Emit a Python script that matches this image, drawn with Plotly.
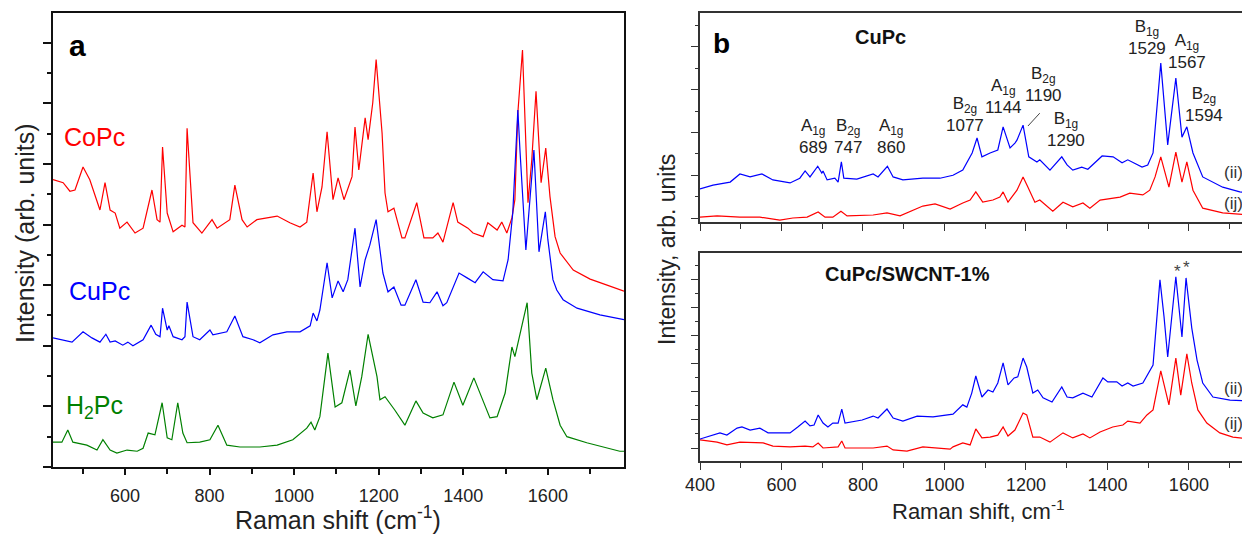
import plotly.graph_objects as go

# ---------------- data (x: Raman shift cm-1, y: arbitrary intensity units) ----------------
# Panel a
a_copc = [(430,47.4),(454,46.9),(470,45.5),(482,45.7),(501,49.5),(517,47.4),(541,42.4),(553,46.9),(565,42.4),(577,41.9),
          (588,39.4),(605,40.4),(624,38.6),(643,39.4),(664,45.7),(676,40.8),(683,40.4),(689,52.8),(700,41.9),(714,38.8),
          (735,39.9),(742,39.6),(747,55.9),(761,40.3),(782,38.6),(806,40.8),(818,39.4),(848,40.8),(860,46.5),(877,40.8),
          (889,39.6),(912,40.8),(960,41.4),(990,40.3),(1014,39.6),(1030,40.4),(1045,48.5),(1054,42.1),(1066,46.2),(1078,55.3),
          (1092,44.1),(1104,47.7),(1118,44.1),(1137,47.9),(1144,56.1),(1153,49.0),(1168,57.6),(1175,54.0),(1186,60.1),(1194,67.2),
          (1208,55.1),(1215,45.2),(1222,42.1),(1236,42.7),(1255,37.8),(1262,37.8),(1290,43.6),(1307,37.8),(1328,37.8),(1340,38.6),
          (1352,37.1),(1376,43.6),(1387,40.4),(1411,39.4),(1423,38.6),(1447,38.0),(1458,40.3),(1480,39.1),(1491,40.4),(1503,38.6),
          (1515,41.1),(1522,44.1),(1529,58.4),(1540,68.8),(1553,43.6),(1562,50.7),(1572,62.0),(1584,46.9),(1595,52.6),(1605,44.6),
          (1617,38.0),(1629,35.3),(1660,32.5),(1700,31.0),(1740,30.0),(1780,29.0)]

a_cupc = [(430,21.3),(451,21.0),(475,20.6),(501,22.3),(522,21.3),(541,20.6),(555,21.9),(565,20.6),(577,20.8),(595,20.1),
          (607,20.6),(619,20.0),(643,21.0),(662,23.4),(673,21.9),(683,21.5),(689,26.2),(700,22.6),(704,23.3),(714,21.5),
          (735,21.0),(742,21.5),(747,27.2),(761,21.5),(777,21.0),(801,22.6),(808,21.8),(841,22.3),(860,24.9),(879,21.5),
          (903,21.0),(919,20.5),(950,21.8),(983,22.3),(1014,22.3),(1038,23.3),(1045,25.4),(1054,24.1),(1061,25.9),(1078,33.7),
          (1090,27.9),(1104,30.7),(1116,28.9),(1127,30.9),(1144,39.4),(1156,29.7),(1168,34.2),(1179,36.6),(1194,40.8),(1210,32.0),
          (1222,28.9),(1236,29.7),(1253,26.7),(1262,26.7),(1288,30.9),(1305,27.2),(1321,27.1),(1338,28.9),(1352,26.6),(1361,27.1),
          (1390,32.0),(1409,31.2),(1428,30.4),(1447,32.2),(1470,30.9),(1494,30.7),(1506,34.2),(1517,41.9),(1529,58.9),(1534,52.3),
          (1548,35.8),(1567,52.3),(1579,35.5),(1594,42.1),(1600,37.5),(1612,30.9),(1621,29.2),(1636,27.6),(1669,26.2),(1723,25.1),
          (1780,24.3)]

a_h2pc = [(430,4.1),(451,4.1),(465,6.1),(477,4.1),(510,3.6),(534,2.8),(548,4.5),(565,2.8),(581,2.3),(605,2.8),
          (629,2.6),(643,3.1),(655,5.6),(671,5.3),(688,10.6),(700,4.8),(711,4.5),(725,10.6),(737,5.6),(747,4.0),
          (777,4.1),(801,4.5),(820,6.9),(841,3.6),(872,3.3),(919,3.3),(960,3.6),(997,4.5),(1030,6.4),(1040,7.4),
          (1049,6.1),(1061,8.3),(1080,18.8),(1097,9.9),(1113,10.6),(1132,16.0),(1146,10.1),(1160,14.9),(1175,21.9),(1196,14.9),
          (1203,11.1),(1215,11.6),(1238,9.4),(1262,6.9),(1288,10.9),(1305,8.9),(1328,8.1),(1352,8.6),(1378,14.0),(1399,10.2),
          (1425,14.7),(1439,12.2),(1463,8.1),(1480,8.3),(1499,12.2),(1515,19.8),(1522,18.2),(1551,27.1),(1562,15.5),(1574,11.1),
          (1595,16.3),(1612,11.1),(1629,6.9),(1645,5.0),(1692,4.0),(1770,2.6),(1780,2.6)]

# Panel b, top (CuPc)
b_top_ii = [(400,6.8),(432,7.7),(474,8.4),(498,10.3),(523,9.6),(552,10.3),(579,8.9),(621,8.2),(645,9.3),(658,11.0),
            (670,9.6),(689,12.1),(699,10.5),(702,11.0),(712,8.9),(731,9.3),(739,8.4),(747,13.1),(753,9.3),(785,9.1),
            (825,10.3),(837,9.6),(860,12.1),(874,9.6),(898,8.9),(947,9.3),(989,9.3),(1021,10.0),(1045,11.2),(1068,15.2),
            (1080,18.7),(1092,14.3),(1112,15.2),(1131,15.9),(1144,21.3),(1161,16.4),(1173,17.5),(1178,18.2),(1193,21.7),(1207,14.3),
            (1227,13.1),(1234,13.6),(1259,11.2),(1288,14.3),(1301,12.4),(1315,11.2),(1337,11.9),(1352,11.4),(1387,14.5),(1414,14.3),
            (1436,12.9),(1450,13.6),(1485,11.9),(1499,12.4),(1512,15.2),(1531,36.2),(1548,17.1),(1568,32.7),(1583,18.9),(1595,21.3),
            (1610,15.2),(1634,9.6),(1683,7.2),(1725,6.1),(1750,5.8)]

b_top_ij = [(400,0.2),(442,0.5),(498,0.2),(547,0.2),(596,-0.5),(628,0.0),(663,0.2),(690,1.4),(707,0.2),(726,0.2),
            (746,1.6),(761,0.5),(825,0.7),(859,1.2),(891,0.5),(923,1.9),(947,2.8),(977,3.3),(1014,2.1),(1045,3.5),
            (1063,4.2),(1077,6.1),(1094,3.7),(1119,4.2),(1136,4.9),(1144,6.1),(1156,3.7),(1178,6.5),(1193,9.6),(1205,7.2),
            (1222,3.7),(1234,4.2),(1266,1.6),(1291,3.7),(1315,2.6),(1340,3.5),(1357,2.3),(1382,4.2),(1431,4.9),(1455,5.8),
            (1487,5.4),(1504,6.5),(1517,9.6),(1531,14.3),(1551,7.2),(1568,15.4),(1583,8.4),(1595,13.1),(1610,6.5),(1634,2.3),
            (1683,1.2),(1750,0.7)]

# Panel b, bottom (CuPc/SWCNT-1%)
b_bot_ii = [(400,3.2),(425,4.3),(449,5.4),(466,4.6),(491,7.1),(503,7.5),(523,6.4),(547,7.1),(567,5.4),(589,5.4),
            (621,5.4),(640,7.5),(658,9.6),(670,7.9),(680,8.2),(690,11.8),(702,8.9),(714,7.5),(726,8.9),(739,8.9),
            (748,13.9),(756,8.9),(775,9.3),(798,10.0),(825,11.4),(837,10.7),(859,13.9),(874,10.7),(898,9.6),(933,11.4),
            (972,11.1),(1014,11.8),(1021,12.1),(1045,15.4),(1055,14.6),(1067,19.6),(1077,25.7),(1092,18.2),(1107,20.7),(1119,20.0),
            (1131,23.2),(1144,30.4),(1156,22.5),(1171,25.0),(1180,25.4),(1193,32.1),(1202,28.9),(1217,19.6),(1229,20.7),(1242,17.9),
            (1264,16.4),(1288,21.8),(1301,18.2),(1315,17.9),(1340,19.6),(1362,18.2),(1389,25.0),(1401,23.6),(1423,23.6),(1436,22.1),
            (1450,23.2),(1463,22.1),(1487,23.2),(1512,29.6),(1529,60.0),(1539,46.8),(1548,32.5),(1568,61.1),(1583,39.6),(1593,60.7),
            (1607,42.9),(1620,31.4),(1634,23.2),(1659,18.2),(1701,17.1),(1750,16.8)]

b_bot_ij = [(400,2.9),(442,2.1),(466,1.1),(498,2.1),(555,1.8),(579,0.7),(621,0.4),(658,0.7),(677,0.4),(690,1.8),
            (702,0.0),(739,0.4),(748,2.5),(756,0.0),(825,0.0),(859,0.7),(874,-0.7),(908,-1.1),(947,0.4),(1014,-0.4),
            (1021,0.4),(1045,1.8),(1063,1.1),(1077,6.8),(1092,3.6),(1112,3.9),(1131,4.6),(1144,7.5),(1156,4.3),(1173,6.4),
            (1193,12.5),(1202,11.8),(1217,3.9),(1234,3.9),(1259,2.1),(1291,5.4),(1315,3.6),(1340,5.0),(1357,3.6),(1382,5.7),
            (1413,7.5),(1438,8.2),(1450,9.6),(1480,8.9),(1497,11.8),(1512,13.6),(1531,27.5),(1551,15.4),(1568,32.1),(1580,18.9),
            (1595,33.6),(1607,23.2),(1622,13.6),(1644,8.9),(1676,5.4),(1708,3.9),(1750,3.2)]

# peak labels of panel b top
peak_sym = ["A<sub>1g</sub>", "B<sub>2g</sub>", "A<sub>1g</sub>", "B<sub>2g</sub>", "A<sub>1g</sub>", "B<sub>2g</sub>",
            "B<sub>1g</sub>", "B<sub>1g</sub>", "A<sub>1g</sub>", "B<sub>2g</sub>"]
peak_num = ["689", "747", "860", "1077", "1144", "1190", "1290", "1529", "1567", "1594"]
peak_lx = [677, 763, 869, 1050, 1146, 1244, 1298, 1497, 1595, 1637]
peak_ly = [19.0, 19.0, 19.0, 24.1, 28.5, 31.1, 20.6, 42.1, 38.8, 26.6]

# ---------------- figure ----------------
OFF = 8                      # page body margin of the html page
W, H = 1250 - OFF, 539 - OFF
FONT = "Liberation Sans, Arial, sans-serif"
RED, BLUE, GREEN = "#ff0000", "#0000ff", "#008000"


def fx(p):
    return (p - OFF) / W


def fy(p):
    return 1 - (p - OFF) / H


fig = go.Figure()


def add_line(data, color, xa, ya):
    fig.add_trace(go.Scatter(x=[d[0] for d in data], y=[d[1] for d in data], mode="lines",
                             line=dict(color=color, width=1.2), xaxis=xa, yaxis=ya,
                             hoverinfo="skip", showlegend=False))


add_line(a_copc, RED, "x", "y")
add_line(a_cupc, BLUE, "x", "y")
add_line(a_h2pc, GREEN, "x", "y")
add_line(b_top_ij, RED, "x2", "y2")
add_line(b_top_ii, BLUE, "x2", "y2")
add_line(b_bot_ij, RED, "x3", "y3")
add_line(b_bot_ii, BLUE, "x3", "y3")

axis_a = dict(showline=True, linecolor="#111", linewidth=2, mirror=True, showgrid=False, zeroline=False,
              ticks="outside", tickcolor="#111", tickwidth=1.5, automargin=False)
axis_b = dict(showline=True, linecolor="#333", linewidth=1.5, showgrid=False, zeroline=False,
              ticks="outside", tickcolor="#333", tickwidth=1.2, automargin=False)

fig.update_layout(
    width=W, height=H, margin=dict(l=0, r=0, t=0, b=0, pad=0, autoexpand=False),
    paper_bgcolor="white", plot_bgcolor="white", showlegend=False,
    font=dict(family=FONT, color="#222"),
    xaxis=dict(axis_a, domain=[fx(53), fx(624)], anchor="y", range=[430, 1780], tick0=0, dtick=200,
               ticklen=6, tickfont=dict(size=18, color="#222"), ticklabelstandoff=5,
               minor=dict(dtick=100, tick0=0, ticks="outside", ticklen=5, tickcolor="#111", tickwidth=1.5)),
    yaxis=dict(axis_a, domain=[fy(467), fy(13)], anchor="x", range=[0, 74.9], tick0=0, dtick=10,
               ticklen=8, showticklabels=False,
               minor=dict(dtick=5, tick0=0, ticks="outside", ticklen=4, tickcolor="#111", tickwidth=1.5)),
    xaxis2=dict(axis_b, mirror=True, domain=[fx(700), 1.0], anchor="y2", range=[400, 1750], tick0=0, dtick=200,
                ticklen=7, showticklabels=False,
                minor=dict(dtick=100, tick0=0, ticks="outside", ticklen=5, tickcolor="#333", tickwidth=1.2)),
    yaxis2=dict(axis_b, domain=[fy(222), fy(13)], anchor="x2", range=[-0.93, 47.9], tick0=0, dtick=10,
                ticklen=7, showticklabels=False,
                minor=dict(dtick=5, tick0=0, ticks="outside", ticklen=3, tickcolor="#333", tickwidth=1.2)),
    xaxis3=dict(axis_b, mirror=True, domain=[fx(700), 1.0], anchor="y3", range=[400, 1750], tick0=0, dtick=200,
                ticklen=7, tickfont=dict(size=18, color="#222"),
                minor=dict(dtick=100, tick0=0, ticks="outside", ticklen=5, tickcolor="#333", tickwidth=1.2)),
    yaxis3=dict(axis_b, domain=[fy(461), fy(253)], anchor="x3", range=[-4.64, 69.6], tick0=0, dtick=10,
                ticklen=7, showticklabels=False,
                minor=dict(dtick=5, tick0=0, ticks="outside", ticklen=3, tickcolor="#333", tickwidth=1.2)),
)

ann = []


def paper_text(text, x, y, size, color="#222", angle=0, xanchor="center"):
    ann.append(dict(text=text, x=fx(x), y=fy(y), xref="paper", yref="paper", showarrow=False,
                    font=dict(size=size, color=color, family=FONT), textangle=angle,
                    xanchor=xanchor, yanchor="middle"))


# panel a texts
paper_text("<b>a</b>", 77, 46, 30, "#000")
paper_text("CoPc", 62, 137, 25, RED, xanchor="left")
paper_text("CuPc", 67, 291, 25, BLUE, xanchor="left")
paper_text("H<sub>2</sub>Pc", 64, 407, 25, GREEN, xanchor="left")
paper_text("Intensity (arb. units)", 25, 233, 25, "#222", angle=-90)
paper_text("Raman shift (cm<sup>-1</sup>)", 338, 518, 25)

# panel b texts
paper_text("<b>b</b>", 721, 43, 28, "#000")
paper_text("<b>CuPc</b>", 880, 37, 20, "#111")
paper_text("<b>CuPc/SWCNT-1%</b>", 907, 274, 20, "#111")
paper_text("Intensity, arb. units", 667, 250, 23, "#222", angle=-90)
paper_text("Raman shift, cm<sup>-1</sup>", 978, 510, 22)

for s, n, lx, ly in zip(peak_sym, peak_num, peak_lx, peak_ly):
    ann.append(dict(text=s + "<br>" + n, x=lx, y=ly, xref="x2", yref="y2", showarrow=False,
                    font=dict(size=17, color="#222", family=FONT), xanchor="center", yanchor="middle"))

for t, yy, xr, yr in [("(ii)", 10.7, "x2", "y2"), ("(ij)", 3.5, "x2", "y2"),
                      ("(ii)", 21.1, "x3", "y3"), ("(ij)", 8.9, "x3", "y3")]:
    ann.append(dict(text=t, x=1710, y=yy, xref=xr, yref=yr, showarrow=False,
                    font=dict(size=17, color="#333", family=FONT), xanchor="center", yanchor="middle"))

for sx, sy in [(1571, 62.9), (1593, 64.6)]:
    ann.append(dict(text="*", x=sx, y=sy, xref="x3", yref="y3", showarrow=False,
                    font=dict(size=17, color="#444", family=FONT), xanchor="center", yanchor="middle"))

fig.update_layout(annotations=ann)

# leader line for the 1190 label
fig.add_shape(type="line", xref="x2", yref="y2", x0=1234, y0=24.5, x1=1205, y1=21.5,
              line=dict(color="#444", width=1))

fig.write_html("out.html")
